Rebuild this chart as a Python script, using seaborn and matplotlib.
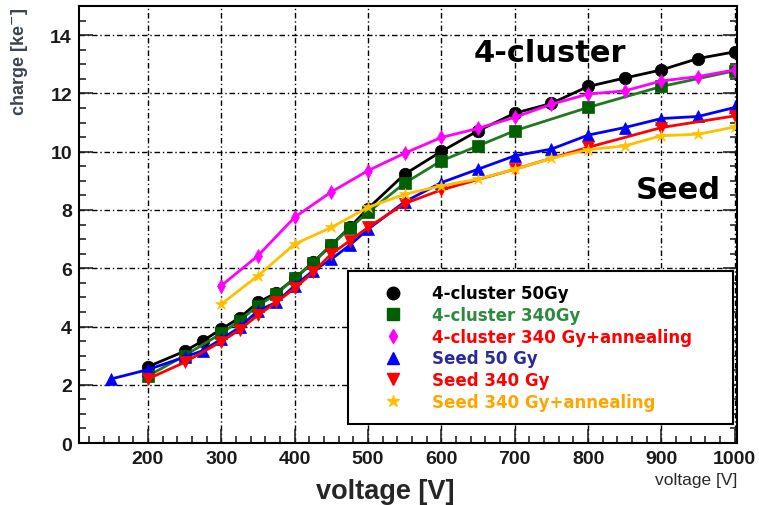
import matplotlib
matplotlib.use("Agg")
import matplotlib.pyplot as plt
from matplotlib.lines import Line2D
from matplotlib.ticker import MultipleLocator
import seaborn as sns
import pandas as pd

# ---- data ----
v_c50 = [200, 250, 275, 300, 325, 350, 375, 400, 425, 450, 475, 500, 550, 600, 650, 700, 750, 800, 850, 900, 950, 1000]
q_c50 = [2.62, 3.15, 3.51, 3.91, 4.3, 4.83, 5.15, 5.65, 6.2, 6.8, 7.4, 8.05, 9.23, 10.01, 10.72, 11.32, 11.66, 12.24, 12.53, 12.81, 13.2, 13.43]

v_c340 = [200, 250, 300, 325, 350, 375, 400, 425, 450, 475, 500, 550, 600, 650, 700, 800, 900, 1000]
q_c340 = [2.3, 3.0, 3.76, 4.2, 4.72, 5.11, 5.65, 6.18, 6.79, 7.37, 7.92, 8.92, 9.69, 10.2, 10.72, 11.52, 12.24, 12.78]

v_cann = [300, 350, 400, 450, 500, 550, 600, 650, 700, 750, 800, 850, 900, 950, 1000]
q_cann = [5.4, 6.43, 7.75, 8.62, 9.35, 9.95, 10.49, 10.8, 11.18, 11.63, 11.98, 12.09, 12.43, 12.58, 12.81]

v_s50 = [150, 200, 250, 275, 300, 325, 350, 375, 400, 425, 450, 475, 500, 550, 600, 650, 700, 750, 800, 850, 900, 950, 1000]
q_s50 = [2.2, 2.52, 2.95, 3.17, 3.57, 3.97, 4.54, 4.83, 5.4, 5.91, 6.31, 6.79, 7.34, 8.28, 8.94, 9.4, 9.86, 10.09, 10.57, 10.83, 11.14, 11.21, 11.52]

v_s340 = [200, 250, 300, 325, 350, 375, 400, 425, 450, 475, 500, 550, 600, 700, 800, 900, 1000]
q_s340 = [2.2, 2.77, 3.48, 3.89, 4.39, 4.83, 5.31, 5.86, 6.49, 6.94, 7.4, 8.22, 8.69, 9.4, 10.15, 10.83, 11.23]

v_sann = [300, 350, 400, 450, 500, 550, 600, 650, 700, 750, 800, 850, 900, 950, 1000]
q_sann = [4.77, 5.74, 6.83, 7.4, 8.09, 8.54, 8.83, 9.06, 9.4, 9.77, 10.07, 10.2, 10.55, 10.6, 10.85]

labels = ["4-cluster 50Gy", "4-cluster 340Gy", "4-cluster 340 Gy+annealing",
          "Seed 50 Gy", "Seed 340 Gy", "Seed 340 Gy+annealing"]
xticks = [200, 300, 400, 500, 600, 700, 800, 900, 1000]
yticks = [0, 2, 4, 6, 8, 10, 12, 14]

series = [
    (v_c50, q_c50, "#000000", "#000000", "o", 9),
    (v_c340, q_c340, "#1f7a1f", "#006000", "s", 9),
    (v_cann, q_cann, "#ff00ff", "#ff00ff", "d", 7),
    (v_s50, q_s50, "#0000ff", "#0000ff", "^", 9),
    (v_s340, q_s340, "#ff0000", "#ff0000", "v", 9),
    (v_sann, q_sann, "#ffc000", "#ffc000", "*", 9),
]
text_colors = ["#000000", "#2e8b3e", "#ff0000", "#2a2a9a", "#ff0000", "#ffa500"]

sns.set_style("ticks")
plt.rcParams["font.family"] = ["Liberation Sans", "DejaVu Sans"]

fig = plt.figure(figsize=(7.59, 5.06), dpi=100)
ax = fig.add_axes([0.104, 0.1225, 0.867, 0.8635])

for (vx, qy, lc, mc, mk, ms), lab in zip(series, labels):
    df = pd.DataFrame({"voltage": vx, "charge": qy})
    sns.lineplot(data=df, x="voltage", y="charge", ax=ax, color=lc, linewidth=2,
                 marker=mk, markersize=ms, markerfacecolor=mc, markeredgecolor=mc,
                 markeredgewidth=0.5, label=None)

ax.set_xlim(106, 1003)
ax.set_ylim(0, 15)
ax.set_xticks(xticks)
ax.set_yticks(yticks)
ax.xaxis.set_minor_locator(MultipleLocator(20))
ax.yaxis.set_minor_locator(MultipleLocator(0.5))
ax.tick_params(which="major", direction="in", length=10, width=1.2, right=True, top=False,
               labelsize=14, labelcolor="#1a1a1a", pad=5)
ax.tick_params(which="minor", direction="in", length=5, width=1.2, right=True, top=False)
for lbl in ax.get_xticklabels() + ax.get_yticklabels():
    lbl.set_fontweight("bold")
ax.grid(True, which="major", color="black", linewidth=1, linestyle=(0, (4, 2, 1, 2)))
for s in ax.spines.values():
    s.set_linewidth(1.5)
    s.set_color("black")
ax.set_xlabel("")
ax.set_ylabel("")

# legend
handles = [Line2D([], [], linestyle="none", marker=mk, markersize=ms, color=mc, markeredgecolor=mc)
           for (_, _, _, mc, mk, ms) in series]
leg = ax.legend(handles, labels, loc="lower left", bbox_to_anchor=(0.409, 0.0435, 0.585, 0.355),
                mode="expand", fancybox=False, frameon=True, framealpha=1, edgecolor="black",
                prop={"weight": "bold", "size": 12, "family": "DejaVu Sans"},
                labelspacing=0.22, handletextpad=0.46,
                borderpad=0.8, borderaxespad=0, handlelength=3.8)
leg.get_frame().set_linewidth(1.5)
for t, c in zip(leg.get_texts(), text_colors):
    t.set_color(c)

ax.text(0.716, 0.893, "4-cluster", transform=ax.transAxes, ha="center", va="center",
        fontsize=22, fontweight="bold", color="black", family="DejaVu Sans")
ax.text(0.91, 0.581, "Seed", transform=ax.transAxes, ha="center", va="center",
        fontsize=22, fontweight="bold", color="black", family="DejaVu Sans")

fig.text(0.507, 0.028, "voltage [V]", ha="center", va="center", fontsize=19.5, fontweight="bold")
fig.text(0.972, 0.051, "voltage [V]", ha="right", va="center", fontsize=12.5, color="#2a2a2a")
fig.text(0.026, 0.985, "charge [ke$^{-}$]", ha="center", va="top", rotation=90,
         fontsize=13, fontweight="bold", color="#3a4450")

fig.savefig("out.png", dpi=100)
